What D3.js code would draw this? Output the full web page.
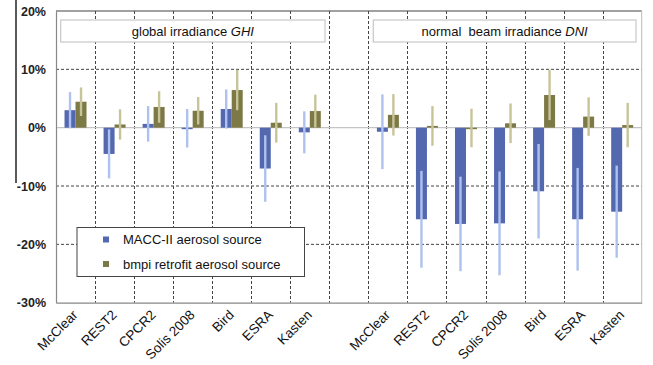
<!DOCTYPE html>
<html>
<head>
<meta charset="utf-8">
<script src="https://cdn.jsdelivr.net/npm/d3@7"></script>
<style>
  body { margin: 0; background: #fff; }
  svg { display: block; font-family: "Liberation Sans", Arial, sans-serif; }
  .ttl { white-space: pre; }
</style>
</head>
<body>
<div id="chart"></div>
<script>
// model names (same order in both panels)
var models = ["McClear", "REST2", "CPCR2", "Solis 2008", "Bird", "ESRA", "Kasten"];
var panelTitles = ["global irradiance ", "normal  beam irradiance "];
var panelVars = ["GHI", "DNI"];
var seriesNames = ["MACC-II aerosol source", "bmpi retrofit aerosol source"];
var yTicks = [-30, -20, -10, 0, 10, 20];

// relative bias in %, with half length of the error bar
var ghiMacc    = [3.0, -4.5, 0.65, -0.1, 3.2, -7.0, -0.8];
var ghiMaccErr = [3.1, 4.2, 3.05, 3.3, 3.35, 5.7, 3.6];
var ghiBmpi    = [4.45, 0.55, 3.55, 2.9, 6.45, 0.85, 2.85];
var ghiBmpiErr = [2.45, 2.6, 2.7, 2.35, 3.45, 3.4, 2.8];
var dniMacc    = [-0.7, -15.7, -16.5, -16.4, -10.9, -15.7, -14.4];
var dniMaccErr = [6.4, 8.3, 8.1, 8.9, 8.1, 8.8, 7.9];
var dniBmpi    = [2.2, 0.3, -0.05, 0.75, 5.6, 1.9, 0.45];
var dniBmpiErr = [3.55, 3.4, 3.3, 3.4, 4.3, 3.3, 3.8];

var colors = ["#5468b0", "#7d7946"];
var errColors = ["#adc2ee", "#c8c49a"];

var W = 653, H = 365;
var margin = { top: 11, right: 11.3, bottom: 62.3, left: 56 };
var width = W - margin.left - margin.right,
    height = H - margin.top - margin.bottom;

// 7 GHI slots, one empty slot, 7 DNI slots
var slots = models.map(function (m) { return "g_" + m; })
    .concat(["gap"])
    .concat(models.map(function (m) { return "d_" + m; }));

var rows = [];
models.forEach(function (m, i) {
    rows.push({ slot: "g_" + m, name: m, vals: [ghiMacc[i], ghiBmpi[i]], errs: [ghiMaccErr[i], ghiBmpiErr[i]] });
});
models.forEach(function (m, i) {
    rows.push({ slot: "d_" + m, name: m, vals: [dniMacc[i], dniBmpi[i]], errs: [dniMaccErr[i], dniBmpiErr[i]] });
});

var svg = d3.select("#chart").append("svg").attr("width", W).attr("height", H);

// stray frame line at the far left of the original picture
svg.append("line").attr("x1", 16).attr("x2", 16).attr("y1", 0).attr("y2", 183)
    .attr("stroke", "#000").attr("stroke-width", 1.3);

var g = svg.append("g").attr("transform", "translate(" + margin.left + "," + margin.top + ")");

var x = d3.scaleBand().domain(slots).range([0, width]);
var xs = d3.scaleBand().domain([0, 1]).range([0, 22]);
var y = d3.scaleLinear().domain([-30, 20]).range([height, 0]);

// grid
g.selectAll(".hgrid").data([-20, -10, 10]).enter().append("line")
    .attr("x1", 0).attr("x2", width)
    .attr("y1", function (d) { return y(d); }).attr("y2", function (d) { return y(d); })
    .attr("stroke", "#444").attr("stroke-width", 1).attr("stroke-dasharray", "3,2");
g.selectAll(".vgrid").data(slots.slice(1)).enter().append("line")
    .attr("x1", function (d) { return Math.round(x(d)) + 0.5; })
    .attr("x2", function (d) { return Math.round(x(d)) + 0.5; })
    .attr("y1", 0).attr("y2", height)
    .attr("stroke", "#444").attr("stroke-width", 1).attr("stroke-dasharray", "3,2");

// plot frame
g.append("line").attr("x1", 0).attr("x2", width).attr("y1", y(20)).attr("y2", y(20))
    .attr("stroke", "#444").attr("stroke-width", 1.2);
g.append("line").attr("x1", width).attr("x2", width).attr("y1", 0).attr("y2", height)
    .attr("stroke", "#bbb");

// panel title boxes
var boxes = [[4.7, 269], [317.3, 580]];
boxes.forEach(function (b, i) {
    g.append("rect").attr("x", b[0]).attr("y", 9).attr("width", b[1] - b[0]).attr("height", 22)
        .attr("fill", "#fff").attr("stroke", "#c8c8c8").attr("stroke-width", 1.2);
    var t = g.append("text").attr("class", "ttl").attr("x", (b[0] + b[1]) / 2).attr("y", 24.5)
        .attr("text-anchor", "middle").attr("font-size", 13).attr("fill", "#111");
    t.append("tspan").text(panelTitles[i]);
    t.append("tspan").attr("font-style", "italic").text(panelVars[i]);
});

// zero line
g.append("line").attr("x1", 0).attr("x2", width).attr("y1", y(0)).attr("y2", y(0))
    .attr("stroke", "#c4c4c4").attr("stroke-width", 1.3);

// bars
var grp = g.selectAll(".grp").data(rows).enter().append("g")
    .attr("transform", function (d) { return "translate(" + (x(d.slot) + (x.bandwidth() - 22) / 2) + ",0)"; });

grp.selectAll("rect").data(function (d) { return d.vals.map(function (v, k) { return { k: k, v: v }; }); })
    .enter().append("rect")
    .attr("x", function (d) { return xs(d.k); })
    .attr("width", xs.bandwidth())
    .attr("y", function (d) { return y(Math.max(0, d.v)); })
    .attr("height", function (d) { return Math.max(1.5, Math.abs(y(d.v) - y(0))); })
    .attr("fill", function (d) { return colors[d.k]; });

// error bars
grp.selectAll("line").data(function (d) { return d.vals.map(function (v, k) { return { k: k, v: v, e: d.errs[k] }; }); })
    .enter().append("line")
    .attr("x1", function (d) { return xs(d.k) + xs.bandwidth() / 2; })
    .attr("x2", function (d) { return xs(d.k) + xs.bandwidth() / 2; })
    .attr("y1", function (d) { return y(d.v + d.e); })
    .attr("y2", function (d) { return y(d.v - d.e); })
    .attr("stroke", function (d) { return errColors[d.k]; })
    .attr("stroke-width", 2.4);

// y axis
var yAxis = g.append("g").call(d3.axisLeft(y).tickValues(yTicks).tickSize(0).tickPadding(10)
    .tickFormat(function (d) { return d + "%"; }));
yAxis.select(".domain").attr("stroke", "#888").attr("stroke-width", 1.2);
yAxis.selectAll("text").attr("font-size", 12.5).attr("font-weight", "bold").attr("fill", "#222")
    .attr("font-family", "Liberation Sans, Arial, sans-serif");

// x axis
var xAxis = g.append("g").attr("transform", "translate(0," + height + ")")
    .call(d3.axisBottom(x).tickSize(0).tickFormat(function (d) {
        return d === "gap" ? "" : d.slice(2);
    }));
xAxis.select(".domain").attr("stroke", "#888").attr("stroke-width", 1.2);
xAxis.selectAll("text")
    .attr("font-size", 13.5).attr("fill", "#111")
    .attr("font-family", "Liberation Sans, Arial, sans-serif")
    .attr("text-anchor", "end")
    .attr("dy", 0).attr("y", 0)
    .attr("transform", "translate(3,13) rotate(-45)");

// legend
var leg = svg.append("g").attr("transform", "translate(77,227.5)");
leg.append("rect").attr("width", 227.5).attr("height", 49)
    .attr("fill", "#fff").attr("stroke", "#444").attr("stroke-width", 1);
seriesNames.forEach(function (s, i) {
    leg.append("rect").attr("x", 26).attr("y", 9 + i * 24.5).attr("width", 6).attr("height", 6)
        .attr("fill", colors[i]);
    leg.append("text").attr("x", 46).attr("y", 16.5 + i * 24.5)
        .attr("font-size", 13).attr("fill", "#111").text(s);
});
</script>
</body>
</html>
